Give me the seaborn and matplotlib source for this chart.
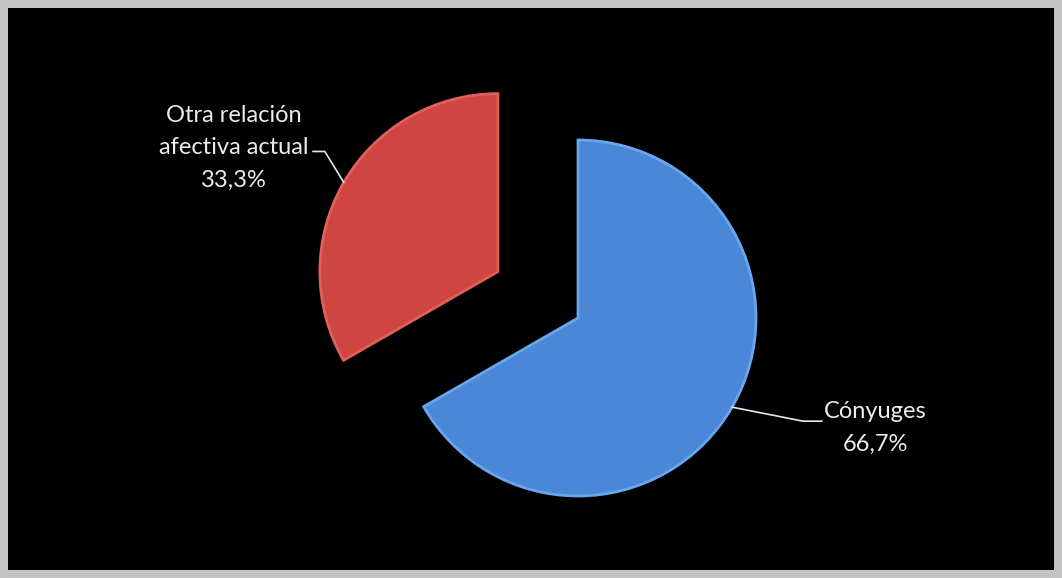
import numpy as np
import seaborn as sns
from matplotlib import pyplot as plt

labels = ["Cónyuges", "Otra relación\nafectiva actual"]
values = [66.7, 33.3]
pct_labels = ["66,7%", "33,3%"]
colors = ["#4a87d6", "#cf4541"]
edge_colors = ["#6aa6ee", "#e0605a"]
explode_frac = [0.0, 0.52]

sns.set_style("dark")
plt.rcParams['font.family'] = ['Lato', 'DejaVu Sans']

W, H = 1062, 578
fig = plt.figure(figsize=(W / 100, H / 100), dpi=100, facecolor="#c3c3c3")
# inner black panel, data units == pixels (y measured from bottom)
ax = fig.add_axes([8 / W, 8 / H, (W - 16) / W, (H - 16) / H])

center = (578, H - 318)
radius = 178
# matplotlib applies explode as an absolute offset, so scale by radius
wedges, _ = ax.pie(values, colors=sns.color_palette(colors),
                   explode=[e * radius for e in explode_frac],
                   startangle=90, counterclock=False, center=center, radius=radius,
                   wedgeprops=dict(linewidth=2), frame=True)
for w, ec in zip(wedges, edge_colors):
    w.set_edgecolor(ec)

ax.set_facecolor("black")
ax.set_xlim(8, W - 8)
ax.set_ylim(8, H - 8)
ax.set_aspect("equal")
ax.set_xticks([])
ax.set_yticks([])
for s in ax.spines.values():
    s.set_visible(False)
ax.grid(False)

# leader lines from mid-angle of each wedge
elbows = [((71, -14), (90, -14)), ((-19, 31), (-31, 31))]
text_pos = [(875, H - 428), (234, H - 148)]
for w, lab, pct, (e1, e2), tp in zip(wedges, labels, pct_labels, elbows, text_pos):
    ang = np.deg2rad((w.theta1 + w.theta2) / 2)
    cx, cy = w.center
    px, py = cx + w.r * np.cos(ang), cy + w.r * np.sin(ang)
    ax.plot([px, px + e1[0], px + e2[0]], [py, py + e1[1], py + e2[1]],
            color="#e8e8e8", lw=1.2, zorder=5)
    ax.text(tp[0], tp[1], f"{lab}\n{pct}", color="#ececec", fontsize=17,
            ha="center", va="center", linespacing=1.65, zorder=6)

fig.savefig("out.png", dpi=100, facecolor=fig.get_facecolor())
